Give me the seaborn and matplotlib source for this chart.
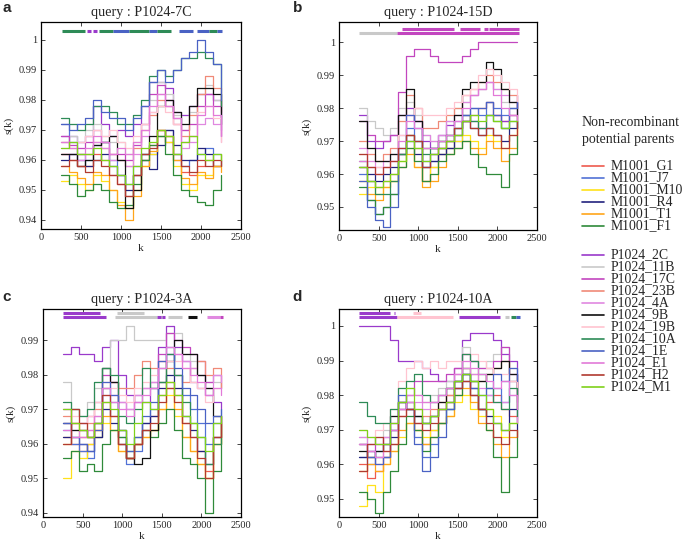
import matplotlib
matplotlib.use('Agg')
import matplotlib.pyplot as plt
from matplotlib.lines import Line2D
import seaborn as sns
import pandas as pd

# window positions k
k_values = [250, 350, 450, 550, 650, 750, 850, 950, 1050, 1150, 1250,
            1350, 1450, 1550, 1650, 1750, 1850, 1950, 2050, 2150, 2250]

parents = ['M1001_G1', 'M1001_J7', 'M1001_M10', 'M1001_R4', 'M1001_T1', 'M1001_F1',
           'P1024_2C', 'P1024_11B', 'P1024_17C', 'P1024_23B', 'P1024_4A', 'P1024_9B',
           'P1024_19B', 'P1024_10A', 'P1024_1E', 'P1024_E1', 'P1024_H2', 'P1024_M1']

colors = ['#ee5a4e', '#5272d6', '#ffe11a', '#23237e', '#ffa51a', '#2f8a3a',
          '#9a3acb', '#c9c9c9', '#c246bf', '#f08a78', '#e089e0', '#111111',
          '#ffc4d0', '#2e8b57', '#4a62c4', '#e27ad8', '#b03a30', '#7fd11a']

queries = ['P1024-7C', 'P1024-15D', 'P1024-3A', 'P1024-10A']

# s(k) values, one row per parent (same order as parents)
s_a = [
    [0.962, 0.960, 0.958, 0.958, 0.962, 0.960, 0.955, 0.952, 0.948, 0.955, 0.960, 0.965, 0.970, 0.966, 0.960, 0.956, 0.955, 0.958, 0.960, 0.958, 0.958],
    [0.972, 0.966, 0.962, 0.960, 0.965, 0.966, 0.960, 0.955, 0.952, 0.958, 0.962, 0.962, 0.968, 0.970, 0.962, 0.958, 0.960, 0.962, 0.964, 0.962, 0.960],
    [0.953, 0.955, 0.952, 0.950, 0.955, 0.953, 0.950, 0.946, 0.944, 0.950, 0.958, 0.962, 0.968, 0.966, 0.958, 0.952, 0.950, 0.955, 0.955, 0.958, 0.962],
    [0.960, 0.962, 0.960, 0.958, 0.960, 0.962, 0.958, 0.955, 0.950, 0.955, 0.960, 0.957, 0.965, 0.970, 0.965, 0.960, 0.960, 0.964, 0.962, 0.958, 0.960],
    [0.958, 0.956, 0.954, 0.952, 0.956, 0.955, 0.950, 0.945, 0.940, 0.948, 0.958, 0.963, 0.970, 0.968, 0.960, 0.954, 0.952, 0.956, 0.954, 0.958, 0.956],
    [0.955, 0.952, 0.948, 0.950, 0.952, 0.950, 0.946, 0.944, 0.945, 0.952, 0.960, 0.965, 0.968, 0.962, 0.955, 0.950, 0.948, 0.946, 0.945, 0.950, 0.955],
    [0.968, 0.968, 0.966, 0.968, 0.978, 0.972, 0.968, 0.970, 0.968, 0.972, 0.978, 0.986, 0.986, 0.984, 0.976, 0.975, 0.978, 0.982, 0.982, 0.980, 0.970],
    [0.966, 0.968, 0.966, 0.970, 0.972, 0.968, 0.966, 0.966, 0.962, 0.966, 0.972, 0.980, 0.986, 0.982, 0.975, 0.970, 0.976, 0.982, 0.985, 0.980, 0.968],
    [0.968, 0.965, 0.964, 0.966, 0.970, 0.966, 0.962, 0.962, 0.960, 0.965, 0.972, 0.982, 0.985, 0.980, 0.974, 0.970, 0.972, 0.978, 0.982, 0.978, 0.968],
    [0.966, 0.964, 0.962, 0.962, 0.966, 0.964, 0.962, 0.960, 0.958, 0.964, 0.970, 0.975, 0.980, 0.978, 0.972, 0.968, 0.975, 0.982, 0.988, 0.984, 0.976],
    [0.962, 0.962, 0.960, 0.962, 0.966, 0.964, 0.960, 0.960, 0.958, 0.962, 0.968, 0.976, 0.982, 0.978, 0.972, 0.964, 0.966, 0.972, 0.974, 0.972, 0.966],
    [0.962, 0.962, 0.958, 0.960, 0.965, 0.966, 0.968, 0.960, 0.944, 0.950, 0.962, 0.968, 0.978, 0.980, 0.976, 0.972, 0.978, 0.984, 0.984, 0.982, 0.972],
    [0.964, 0.966, 0.966, 0.968, 0.970, 0.968, 0.970, 0.966, 0.964, 0.968, 0.972, 0.976, 0.978, 0.976, 0.972, 0.966, 0.968, 0.976, 0.978, 0.974, 0.966],
    [0.974, 0.972, 0.970, 0.972, 0.978, 0.978, 0.976, 0.972, 0.972, 0.975, 0.980, 0.988, 0.990, 0.988, 0.990, 0.994, 0.994, 0.996, 0.994, 0.992, 0.978],
    [0.972, 0.970, 0.972, 0.974, 0.980, 0.976, 0.974, 0.974, 0.970, 0.974, 0.978, 0.986, 0.990, 0.986, 0.990, 0.994, 0.996, 1.000, 0.996, 0.992, 0.980],
    [0.966, 0.964, 0.962, 0.964, 0.968, 0.966, 0.962, 0.964, 0.962, 0.966, 0.970, 0.978, 0.982, 0.978, 0.974, 0.966, 0.968, 0.975, 0.978, 0.975, 0.968],
    [0.958, 0.960, 0.958, 0.956, 0.960, 0.958, 0.955, 0.952, 0.948, 0.955, 0.962, 0.964, 0.970, 0.968, 0.962, 0.958, 0.956, 0.960, 0.958, 0.960, 0.958],
    [0.964, 0.966, 0.962, 0.962, 0.964, 0.960, 0.958, 0.955, 0.952, 0.958, 0.964, 0.966, 0.970, 0.968, 0.962, 0.966, 0.968, 0.962, 0.960, 0.962, 0.960],
]

s_b = [
    [0.962, 0.958, 0.956, 0.958, 0.960, 0.966, 0.972, 0.968, 0.958, 0.962, 0.968, 0.970, 0.972, 0.976, 0.978, 0.980, 0.982, 0.978, 0.976, 0.978, 0.976],
    [0.960, 0.952, 0.948, 0.950, 0.954, 0.966, 0.974, 0.970, 0.962, 0.964, 0.966, 0.968, 0.970, 0.976, 0.980, 0.978, 0.982, 0.980, 0.978, 0.980, 0.982],
    [0.954, 0.956, 0.954, 0.956, 0.958, 0.964, 0.968, 0.962, 0.958, 0.962, 0.966, 0.968, 0.970, 0.972, 0.970, 0.968, 0.972, 0.970, 0.968, 0.972, 0.974],
    [0.962, 0.960, 0.958, 0.960, 0.962, 0.966, 0.970, 0.966, 0.962, 0.964, 0.966, 0.968, 0.972, 0.976, 0.974, 0.972, 0.974, 0.972, 0.970, 0.974, 0.976],
    [0.958, 0.954, 0.952, 0.956, 0.958, 0.962, 0.966, 0.962, 0.956, 0.958, 0.962, 0.966, 0.968, 0.970, 0.968, 0.966, 0.970, 0.968, 0.964, 0.968, 0.974],
    [0.956, 0.952, 0.948, 0.950, 0.954, 0.962, 0.968, 0.964, 0.958, 0.960, 0.964, 0.966, 0.968, 0.970, 0.966, 0.962, 0.960, 0.960, 0.956, 0.966, 0.972],
    [0.978, 0.970, 0.968, 0.970, 0.972, 0.978, 0.980, 0.976, 0.970, 0.968, 0.972, 0.975, 0.976, 0.978, 0.976, 0.974, 0.978, 0.978, 0.976, 0.978, 0.984],
    [0.980, 0.976, 0.974, 0.972, 0.974, 0.980, 0.982, 0.978, 0.972, 0.970, 0.972, 0.976, 0.980, 0.982, 0.984, 0.986, 0.988, 0.986, 0.982, 0.980, 0.978],
    [0.976, 0.972, 0.970, 0.970, 0.972, 0.985, 0.996, 0.998, 0.998, 0.996, 0.994, 0.994, 0.994, 0.996, 0.998, 1.000, 1.000, 1.000, 1.000, 1.000, 1.000],
    [0.970, 0.966, 0.964, 0.966, 0.968, 0.976, 0.984, 0.980, 0.974, 0.974, 0.976, 0.978, 0.980, 0.984, 0.986, 0.988, 0.990, 0.988, 0.986, 0.984, 0.980],
    [0.968, 0.964, 0.962, 0.964, 0.966, 0.972, 0.978, 0.976, 0.972, 0.970, 0.972, 0.976, 0.978, 0.982, 0.984, 0.986, 0.988, 0.986, 0.984, 0.982, 0.978],
    [0.976, 0.968, 0.964, 0.964, 0.966, 0.978, 0.986, 0.976, 0.968, 0.968, 0.970, 0.972, 0.978, 0.986, 0.988, 0.988, 0.994, 0.992, 0.986, 0.982, 0.974],
    [0.966, 0.962, 0.962, 0.962, 0.964, 0.972, 0.978, 0.980, 0.978, 0.978, 0.978, 0.980, 0.982, 0.984, 0.986, 0.990, 0.992, 0.990, 0.988, 0.986, 0.982],
    [0.964, 0.958, 0.954, 0.954, 0.958, 0.966, 0.972, 0.970, 0.966, 0.968, 0.970, 0.972, 0.974, 0.978, 0.976, 0.974, 0.978, 0.976, 0.974, 0.976, 0.974],
    [0.958, 0.950, 0.946, 0.944, 0.950, 0.968, 0.978, 0.974, 0.964, 0.966, 0.968, 0.970, 0.974, 0.978, 0.980, 0.980, 0.982, 0.978, 0.974, 0.980, 0.982],
    [0.964, 0.962, 0.960, 0.962, 0.964, 0.970, 0.976, 0.974, 0.968, 0.968, 0.970, 0.972, 0.976, 0.980, 0.984, 0.986, 0.988, 0.984, 0.980, 0.978, 0.976],
    [0.966, 0.962, 0.960, 0.962, 0.964, 0.968, 0.972, 0.970, 0.962, 0.966, 0.968, 0.970, 0.974, 0.976, 0.974, 0.972, 0.974, 0.972, 0.968, 0.972, 0.976],
    [0.962, 0.958, 0.956, 0.958, 0.960, 0.964, 0.970, 0.968, 0.964, 0.966, 0.968, 0.970, 0.972, 0.976, 0.978, 0.976, 0.978, 0.976, 0.974, 0.976, 0.976],
]

s_c = [
    [0.962, 0.960, 0.958, 0.960, 0.964, 0.972, 0.968, 0.960, 0.956, 0.960, 0.964, 0.968, 0.974, 0.978, 0.974, 0.966, 0.962, 0.958, 0.952, 0.962, 0.968],
    [0.964, 0.960, 0.958, 0.956, 0.962, 0.976, 0.972, 0.962, 0.954, 0.958, 0.966, 0.970, 0.982, 0.986, 0.980, 0.974, 0.970, 0.966, 0.960, 0.966, 0.970],
    [0.950, 0.958, 0.956, 0.960, 0.962, 0.966, 0.964, 0.958, 0.956, 0.960, 0.962, 0.964, 0.970, 0.974, 0.968, 0.962, 0.958, 0.954, 0.950, 0.960, 0.966],
    [0.962, 0.962, 0.960, 0.958, 0.962, 0.970, 0.966, 0.960, 0.956, 0.960, 0.966, 0.968, 0.976, 0.980, 0.976, 0.968, 0.964, 0.958, 0.954, 0.962, 0.968],
    [0.960, 0.966, 0.962, 0.962, 0.964, 0.968, 0.964, 0.958, 0.956, 0.960, 0.962, 0.964, 0.970, 0.976, 0.970, 0.962, 0.958, 0.954, 0.950, 0.960, 0.966],
    [0.956, 0.958, 0.952, 0.954, 0.952, 0.960, 0.964, 0.962, 0.958, 0.962, 0.964, 0.962, 0.966, 0.970, 0.964, 0.956, 0.954, 0.950, 0.940, 0.952, 0.962],
    [0.986, 0.988, 0.986, 0.986, 0.984, 0.988, 0.990, 0.980, 0.974, 0.972, 0.972, 0.976, 0.988, 0.994, 0.988, 0.984, 0.978, 0.976, 0.974, 0.972, 0.970],
    [0.978, 0.970, 0.968, 0.972, 0.976, 0.982, 0.990, 0.990, 0.994, 0.990, 0.990, 0.990, 0.990, 0.992, 0.992, 0.986, 0.984, 0.980, 0.978, 0.978, 0.976],
    [0.970, 0.966, 0.966, 0.968, 0.972, 0.980, 0.978, 0.972, 0.970, 0.974, 0.976, 0.978, 0.986, 0.992, 0.990, 0.988, 0.986, 0.984, 0.978, 0.980, 0.976],
    [0.968, 0.966, 0.964, 0.966, 0.970, 0.976, 0.978, 0.976, 0.976, 0.980, 0.984, 0.982, 0.984, 0.982, 0.980, 0.978, 0.982, 0.984, 0.980, 0.982, 0.976],
    [0.966, 0.964, 0.962, 0.964, 0.968, 0.974, 0.974, 0.972, 0.970, 0.974, 0.976, 0.978, 0.984, 0.986, 0.986, 0.984, 0.982, 0.980, 0.976, 0.980, 0.978],
    [0.966, 0.964, 0.964, 0.962, 0.966, 0.982, 0.978, 0.964, 0.956, 0.954, 0.956, 0.964, 0.978, 0.984, 0.990, 0.986, 0.986, 0.980, 0.976, 0.968, 0.968],
    [0.970, 0.968, 0.966, 0.968, 0.972, 0.978, 0.976, 0.974, 0.972, 0.976, 0.978, 0.980, 0.982, 0.984, 0.984, 0.982, 0.978, 0.976, 0.972, 0.976, 0.976],
    [0.972, 0.970, 0.968, 0.970, 0.978, 0.982, 0.980, 0.968, 0.966, 0.970, 0.982, 0.976, 0.978, 0.986, 0.980, 0.972, 0.966, 0.962, 0.954, 0.960, 0.966],
    [0.966, 0.962, 0.960, 0.958, 0.964, 0.978, 0.974, 0.964, 0.958, 0.962, 0.968, 0.972, 0.984, 0.988, 0.982, 0.976, 0.974, 0.970, 0.966, 0.968, 0.970],
    [0.964, 0.962, 0.962, 0.964, 0.968, 0.976, 0.972, 0.970, 0.968, 0.972, 0.974, 0.976, 0.982, 0.988, 0.986, 0.982, 0.980, 0.978, 0.974, 0.976, 0.974],
    [0.960, 0.970, 0.966, 0.962, 0.966, 0.974, 0.968, 0.960, 0.956, 0.960, 0.964, 0.966, 0.972, 0.976, 0.972, 0.966, 0.962, 0.956, 0.950, 0.962, 0.968],
    [0.970, 0.966, 0.964, 0.962, 0.966, 0.972, 0.970, 0.964, 0.960, 0.966, 0.972, 0.970, 0.974, 0.978, 0.974, 0.968, 0.966, 0.962, 0.958, 0.966, 0.968],
]

s_d = [
    [0.960, 0.956, 0.958, 0.962, 0.966, 0.974, 0.976, 0.972, 0.966, 0.970, 0.976, 0.980, 0.982, 0.984, 0.980, 0.976, 0.978, 0.980, 0.976, 0.974, 0.972],
    [0.962, 0.960, 0.964, 0.966, 0.970, 0.978, 0.976, 0.968, 0.962, 0.966, 0.972, 0.976, 0.982, 0.984, 0.980, 0.976, 0.980, 0.982, 0.978, 0.984, 0.980],
    [0.948, 0.954, 0.952, 0.960, 0.964, 0.968, 0.972, 0.970, 0.968, 0.970, 0.972, 0.974, 0.978, 0.980, 0.976, 0.974, 0.976, 0.974, 0.968, 0.972, 0.972],
    [0.962, 0.964, 0.962, 0.962, 0.968, 0.976, 0.978, 0.974, 0.972, 0.974, 0.976, 0.978, 0.984, 0.986, 0.982, 0.976, 0.974, 0.972, 0.970, 0.976, 0.970],
    [0.958, 0.960, 0.958, 0.960, 0.964, 0.970, 0.972, 0.970, 0.966, 0.968, 0.972, 0.974, 0.980, 0.982, 0.978, 0.972, 0.970, 0.966, 0.962, 0.968, 0.970],
    [0.952, 0.950, 0.946, 0.952, 0.958, 0.966, 0.974, 0.970, 0.964, 0.968, 0.972, 0.976, 0.980, 0.988, 0.984, 0.976, 0.970, 0.962, 0.952, 0.962, 0.970],
    [1.000, 1.000, 1.000, 1.000, 0.996, 0.990, 0.990, 0.990, 0.988, 0.986, 0.984, 0.984, 0.988, 0.996, 0.998, 0.998, 0.998, 0.996, 0.992, 0.990, 0.980],
    [0.968, 0.966, 0.968, 0.970, 0.974, 0.978, 0.982, 0.980, 0.978, 0.980, 0.982, 0.984, 0.986, 0.994, 0.990, 0.988, 0.990, 0.992, 0.994, 0.988, 0.982],
    [0.966, 0.964, 0.966, 0.968, 0.972, 0.978, 0.980, 0.984, 0.984, 0.984, 0.984, 0.986, 0.988, 0.992, 0.990, 0.988, 0.988, 0.990, 0.994, 0.986, 0.978],
    [0.966, 0.962, 0.960, 0.964, 0.970, 0.976, 0.978, 0.976, 0.974, 0.976, 0.978, 0.980, 0.984, 0.988, 0.986, 0.984, 0.986, 0.988, 0.990, 0.984, 0.976],
    [0.968, 0.966, 0.966, 0.968, 0.972, 0.976, 0.978, 0.978, 0.976, 0.978, 0.980, 0.982, 0.986, 0.988, 0.986, 0.982, 0.980, 0.978, 0.978, 0.980, 0.972],
    [0.964, 0.962, 0.964, 0.966, 0.974, 0.978, 0.976, 0.974, 0.972, 0.974, 0.978, 0.982, 0.984, 0.986, 0.984, 0.984, 0.986, 0.988, 0.990, 0.986, 0.976],
    [0.970, 0.968, 0.970, 0.972, 0.976, 0.984, 0.988, 0.990, 0.988, 0.990, 0.988, 0.990, 0.990, 0.992, 0.992, 0.990, 0.988, 0.986, 0.986, 0.984, 0.980],
    [0.978, 0.974, 0.972, 0.972, 0.976, 0.982, 0.984, 0.986, 0.980, 0.978, 0.980, 0.982, 0.984, 0.992, 0.990, 0.986, 0.982, 0.978, 0.976, 0.982, 0.974],
    [0.966, 0.962, 0.960, 0.962, 0.970, 0.980, 0.976, 0.966, 0.958, 0.962, 0.968, 0.976, 0.982, 0.986, 0.982, 0.980, 0.982, 0.986, 0.984, 0.988, 0.984],
    [0.966, 0.964, 0.962, 0.966, 0.970, 0.976, 0.980, 0.980, 0.978, 0.978, 0.980, 0.982, 0.986, 0.990, 0.988, 0.986, 0.984, 0.982, 0.984, 0.980, 0.976],
    [0.958, 0.966, 0.968, 0.964, 0.966, 0.974, 0.976, 0.972, 0.970, 0.972, 0.976, 0.978, 0.982, 0.984, 0.980, 0.976, 0.972, 0.968, 0.966, 0.970, 0.968],
    [0.970, 0.968, 0.966, 0.966, 0.972, 0.978, 0.982, 0.976, 0.972, 0.974, 0.976, 0.978, 0.984, 0.986, 0.984, 0.980, 0.976, 0.972, 0.970, 0.972, 0.972],
]

# best-parent segments along the top: (panel, parent, k start, k end, row)
seg_panel = ['a'] * 12 + ['b'] * 6 + ['c'] * 10 + ['d'] * 9
seg_parent = ['P1024_10A', 'P1024_2C', 'P1024_2C', 'P1024_10A', 'P1024_1E', 'P1024_10A',
              'P1024_1E', 'P1024_10A', 'P1024_1E', 'P1024_1E', 'P1024_10A', 'P1024_1E',
              'P1024_11B', 'P1024_17C', 'P1024_17C', 'P1024_17C', 'P1024_17C', 'P1024_17C',
              'P1024_2C', 'P1024_11B', 'P1024_2C', 'P1024_11B', 'P1024_2C', 'P1024_11B',
              'P1024_9B', 'P1024_4A', 'P1024_17C', 'P1024_11B',
              'P1024_2C', 'P1024_2C', 'P1024_19B', 'P1024_2C', 'P1024_19B', 'P1024_2C',
              'P1024_11B', 'P1024_10A', 'P1024_1E']
seg_start = [260, 575, 650, 725, 900, 1100, 1350, 1450, 1730, 1950, 2100, 2200,
             250, 730, 800, 1530, 1830, 1900,
             255, 930, 255, 910, 1440, 1580, 1830, 2070, 2230, 1490,
             250, 690, 940, 250, 730, 1515, 2090, 2170, 2240]
seg_end = [550, 620, 700, 900, 1100, 1350, 1450, 1620, 1900, 2100, 2200, 2260,
           728, 2270, 1450, 1780, 1880, 2270,
           720, 1275, 800, 1440, 1540, 1750, 1940, 2230, 2270, 1500,
           645, 710, 1035, 730, 1440, 2030, 2150, 2240, 2280]
seg_row = [0] * 12 + [0, 0, 1, 1, 1, 1] + [1, 1, 0, 0, 0, 0, 0, 0, 0, 0] + [1, 1, 1, 0, 0, 0, 0, 0, 0]

panels = {
    'a': dict(s=s_a, query=queries[0], ylim=(0.937, 1.006), yticks=[0.94, 0.95, 0.96, 0.97, 0.98, 0.99, 1.0],
              rows=(1.003, 1.003), rect=(0.0599, 0.5783, 0.292, 0.3812), letter=(0.003, 0.985)),
    'b': dict(s=s_b, query=queries[1], ylim=(0.943, 1.0062), yticks=[0.95, 0.96, 0.97, 0.98, 0.99, 1.0],
              rows=(1.0029, 1.0040), rect=(0.4949, 0.5764, 0.289, 0.383), letter=(0.427, 0.985)),
    'c': dict(s=s_c, query=queries[2], ylim=(0.9388, 0.999), yticks=[0.94, 0.95, 0.96, 0.97, 0.98, 0.99],
              rows=(0.9968, 0.9978), rect=(0.0628, 0.0479, 0.289, 0.383), letter=(0.003, 0.453)),
    'd': dict(s=s_d, query=queries[3], ylim=(0.9448, 1.0049), yticks=[0.95, 0.96, 0.97, 0.98, 0.99, 1.0],
              rows=(1.0027, 1.0038), rect=(0.4949, 0.0479, 0.289, 0.383), letter=(0.427, 0.453)),
}

sns.set_style('ticks')
plt.rcParams['font.family'] = ['Liberation Serif', 'DejaVu Serif']
plt.rcParams['xtick.direction'] = 'in'
plt.rcParams['ytick.direction'] = 'in'

palette = dict(zip(parents, colors))
fig = plt.figure(figsize=(6.85, 5.43), dpi=100)

for name, p in panels.items():
    ax = fig.add_axes(p['rect'])
    rows = []
    for parent, vals in zip(parents, p['s']):
        for k, v in zip(k_values, vals):
            rows.append((parent, k, v))
    df = pd.DataFrame(rows, columns=['parent', 'k', 's'])
    sns.lineplot(data=df, x='k', y='s', hue='parent', palette=palette, hue_order=parents,
                 estimator=None, sort=False, drawstyle='steps-post', linewidth=0.9,
                 legend=False, ax=ax)

    # segments showing the closest parent
    for sp, par, x0, x1, r in zip(seg_panel, seg_parent, seg_start, seg_end, seg_row):
        if sp != name:
            continue
        y = p['rows'][r]
        ax.plot([x0, x1], [y, y], color=palette[par], linewidth=2.2, solid_capstyle='butt')

    ax.set_xlim(0, 2500)
    ax.set_ylim(*p['ylim'])
    ax.set_xticks([0, 500, 1000, 1500, 2000, 2500])
    ax.set_yticks(p['yticks'])
    ax.set_yticklabels([f'{t:g}' for t in p['yticks']])
    ax.tick_params(labelsize=7.5, length=3, width=0.6, top=True, right=True, pad=3)
    for sp in ax.spines.values():
        sp.set_linewidth(0.9)
        sp.set_color('black')
    ax.set_xlabel('k', fontsize=8, labelpad=1)
    ax.set_ylabel('s(k)', fontsize=8, labelpad=4)
    ax.set_title(f'query : {p["query"]}', fontsize=10.2, pad=4)
    fig.text(p['letter'][0], p['letter'][1], name, fontsize=11, fontweight='bold',
             family='Liberation Sans', va='center', ha='left')

# legend
fig.text(0.849, 1 - 122 / 543, 'Non-recombinant', fontsize=10, va='center', ha='left')
fig.text(0.849, 1 - 139 / 543, 'potential parents', fontsize=10, va='center', ha='left')
for i, (parent, col) in enumerate(zip(parents, colors)):
    ypx = 166 + i * 12 + (17 if i >= 6 else 0)
    yf = 1 - ypx / 543
    fig.add_artist(Line2D([582 / 685, 604 / 685], [yf, yf], color=col, linewidth=1.2,
                          transform=fig.transFigure))
    fig.text(611 / 685, yf, parent, fontsize=9.9, va='center', ha='left')

fig.savefig('out.png', dpi=100)
